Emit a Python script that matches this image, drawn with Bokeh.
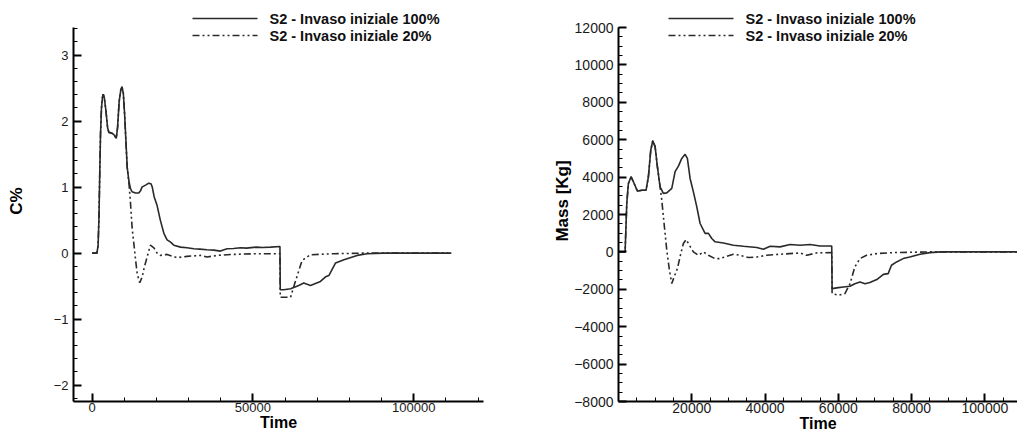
from bokeh.plotting import figure
from bokeh.models import (Range1d, SingleIntervalTicker, FixedTicker, BasicTickFormatter,
                          Label, Arrow)
from bokeh.layouts import row
from bokeh.embed import file_html
from bokeh.resources import INLINE

# ---------------- data: left chart (C%) ----------------
c100_t = [0, 1500, 1850, 2100, 2400, 2600, 2900, 3200, 3450, 3800, 4300, 4800, 5200, 6000, 6700,
          7500, 7900, 8400, 8900, 9300, 9700, 10100, 10500, 10900, 11400, 11900, 12400, 13500,
          14500, 15100, 15500, 16600, 17600, 18300, 18700, 19300, 20200, 21200, 22300, 23300,
          24300, 25400, 27500, 29500, 31600, 33500, 35700, 37800, 39900, 41000, 42000, 44000,
          46100, 48000, 51000, 53000, 55500, 58400, 58500, 59600, 61700, 64250, 65800, 67900,
          71000, 72600, 73600, 75700, 78300, 82400, 85500, 90600, 111700]
c100_v = [0, 0, 0.12, 0.5, 1.3, 1.8, 2.2, 2.36, 2.41, 2.35, 2.15, 1.9, 1.83, 1.82, 1.80,
          1.74, 1.9, 2.3, 2.47, 2.52, 2.42, 2.1, 1.7, 1.3, 1.10, 0.98, 0.93, 0.91,
          0.91, 0.95, 1.0, 1.03, 1.06, 1.05, 1.0, 0.85, 0.72, 0.5, 0.3, 0.2,
          0.17, 0.12, 0.09, 0.08, 0.065, 0.06, 0.05, 0.045, 0.03, 0.05, 0.066, 0.07,
          0.08, 0.075, 0.09, 0.085, 0.09, 0.10, -0.556, -0.556, -0.54, -0.49, -0.455, -0.49,
          -0.43, -0.36, -0.34, -0.15, -0.10, -0.035, -0.01, 0, 0]

c20_t = [0, 1500, 1850, 2100, 2400, 2600, 2900, 3200, 3450, 3800, 4300, 4800, 5200, 6000, 6700,
         7500, 7900, 8400, 8900, 9300, 9700, 10100, 10500, 10900, 11400, 11900, 12400, 12950,
         13500, 14000, 14800, 15500, 16300, 17100, 18100, 19200, 20200, 21200, 23300, 26400,
         29500, 33700, 35700, 38900, 44000, 50200, 58400, 58500, 61700, 63000, 65300, 67900,
         75100, 85000, 111700]
c20_v = [0, 0, 0.12, 0.5, 1.3, 1.8, 2.2, 2.36, 2.41, 2.35, 2.15, 1.9, 1.83, 1.82, 1.80,
         1.74, 1.9, 2.3, 2.47, 2.52, 2.42, 2.1, 1.7, 1.3, 1.08, 0.78, 0.4, 0.15,
         -0.1, -0.31, -0.45, -0.37, -0.2, -0.06, 0.12, 0.08, 0.0, -0.035, -0.02, -0.07,
         -0.05, -0.035, -0.06, -0.035, -0.02, -0.01, -0.01, -0.67, -0.67, -0.46, -0.11, -0.025,
         -0.01, 0, 0]

# ---------------- data: right chart (Mass [Kg]) ----------------
m100_t = [0, 1800, 2260, 2700, 3440, 4070, 5160, 6360, 7530, 8160, 8810, 9360, 9990, 10620,
          11350, 12250, 13180, 14540, 15450, 16350, 17270, 18180, 18800, 19540, 20440, 21370,
          22270, 23630, 24540, 25460, 26360, 28630, 31360, 34090, 37740, 39550, 41370, 44100,
          46830, 49560, 52300, 55000, 58200, 58300, 60000, 61400, 63200, 64500, 65900, 67300,
          68600, 70500, 72300, 73600, 74500, 75900, 77700, 79500, 82300, 85000, 88000, 108900]
m100_v = [0, 0, 2590, 3660, 4020, 3750, 3250, 3300, 3300, 4020, 5450, 5950, 5630, 4550,
          3480, 3130, 3160, 3400, 4290, 4590, 5000, 5220, 5000, 3930, 3210, 2410,
          1520, 990, 990, 720, 540, 480, 360, 305, 235, 145, 305, 270,
          395, 360, 393, 320, 320, -1965, -1910, -1875, -1840, -1700, -1610, -1700,
          -1640, -1480, -1200, -1160, -714, -536, -357, -268, -125, -36, 0, 0]

m20_t = [0, 1800, 2260, 2700, 3440, 4070, 5160, 6360, 7530, 8160, 8810, 9360, 9990, 10620,
         11350, 11810, 12440, 13180, 13900, 14540, 15170, 16080, 17000, 17710, 18450, 19350,
         20440, 21810, 23170, 24540, 26360, 27730, 29550, 31360, 33180, 35450, 37740, 40470,
         44100, 49560, 51400, 54000, 58200, 58300, 60000, 61800, 63200, 64500, 65900, 67700,
         70500, 75000, 85000, 108900]
m20_v = [0, 0, 2590, 3660, 4020, 3750, 3250, 3300, 3300, 4020, 5450, 5950, 5630, 4550,
         3480, 2770, 1520, 90, -980, -1690, -1340, -890, -90, 450, 660, 360,
         0, -180, 0, -180, -360, -360, -230, -125, -180, -300, -270, -180,
         -125, -55, -179, -54, -36, -2230, -2320, -2230, -1700, -800, -357, -179,
         -90, -36, 0, 0]

labels = ["S2 - Invaso iniziale 100%", "S2 - Invaso iniziale 20%"]
x_title = "Time"
left_y_title = "C%"
right_y_title = "Mass [Kg]"
left_y_bounds = (-2.25, 3.42)
right_y_bounds = (-8000, 12000)
right_x_ticks = [20000, 40000, 60000, 80000, 100000]
right_x_minor = [5000 * k for k in range(1, 22)]

FONT = "Liberation Sans"
LINE_COLOR = "#2a2a2a"
LINE_W = 1.6
DASH = "7 3 2 3 2 3"


def style(p, tick_font, ylab_standoff, ybounds):
    p.outline_line_color = None
    p.xgrid.visible = False
    p.ygrid.visible = False
    p.background_fill_color = "white"
    p.border_fill_color = "white"
    for ax in (p.xaxis[0], p.yaxis[0]):
        ax.axis_line_width = 2
        ax.axis_line_color = "black"
        ax.major_tick_in = 8
        ax.major_tick_out = 0
        ax.major_tick_line_width = 2
        ax.major_tick_line_color = "black"
        ax.minor_tick_in = 4
        ax.minor_tick_out = 0
        ax.minor_tick_line_width = 1
        ax.minor_tick_line_color = "black"
        ax.major_label_text_font = FONT
        ax.major_label_text_font_size = tick_font
        ax.major_label_text_color = "#1a1a1a"
        ax.axis_label_text_font = FONT
        ax.axis_label_text_font_style = "bold"
        ax.axis_label_text_color = "black"
        ax.formatter = BasicTickFormatter(use_scientific=False)
    p.yaxis[0].bounds = ybounds
    p.xaxis[0].major_label_standoff = 1
    p.xaxis[0].axis_label_standoff = -1
    p.xaxis[0].axis_label_text_font_size = "16px"
    p.yaxis[0].major_label_standoff = 5
    p.yaxis[0].axis_label_standoff = ylab_standoff
    p.yaxis[0].axis_label_text_font_size = "17px"


def add_key(p, x0, ys):
    # legend: line samples + bold labels, placed in screen units near the frame top
    dashes = ["solid", DASH]
    for lab, yy, dash in zip(labels, ys, dashes):
        p.add_layout(Arrow(start=None, end=None, x_start=x0, y_start=yy, x_end=x0 + 65, y_end=yy,
                           start_units="screen", end_units="screen",
                           line_color=LINE_COLOR, line_width=LINE_W, line_dash=dash))
        p.add_layout(Label(x=x0 + 77, y=yy, x_units="screen", y_units="screen", text=lab,
                           text_font=FONT, text_font_size="14.5px", text_font_style="bold",
                           text_color="#111111", text_baseline="middle", text_align="left"))


# ---------------- left figure ----------------
# frame spans the full height above the axis so that the key (partly above the axis top) is visible;
# the y axis itself is limited to its bounds.
p1 = figure(width=505, height=434, output_backend="svg", toolbar_location=None,
            x_range=Range1d(-5800, 121700), y_range=Range1d(-2.25, 3.829),
            min_border_left=73, min_border_right=22, min_border_top=0, min_border_bottom=33,
            x_axis_label=x_title, y_axis_label=left_y_title)
p1.xaxis[0].ticker = SingleIntervalTicker(interval=50000, num_minor_ticks=5)
p1.yaxis[0].ticker = SingleIntervalTicker(interval=1, num_minor_ticks=5)
style(p1, "13px", 25, left_y_bounds)
p1.line(c100_t, c100_v, line_color=LINE_COLOR, line_width=LINE_W)
p1.line(c20_t, c20_v, line_color=LINE_COLOR, line_width=LINE_W, line_dash=DASH)
add_key(p1, 119, [383, 366])

# ---------------- right figure ----------------
p2 = figure(width=512, height=434, output_backend="svg", toolbar_location=None,
            x_range=Range1d(0, 108900), y_range=Range1d(-8000, 13447),
            min_border_left=113, min_border_right=0, min_border_top=0, min_border_bottom=33,
            x_axis_label=x_title, y_axis_label=right_y_title)
p2.xaxis[0].ticker = FixedTicker(ticks=right_x_ticks, minor_ticks=right_x_minor)
p2.yaxis[0].ticker = SingleIntervalTicker(interval=2000, num_minor_ticks=4)
style(p2, "14px", -1, right_y_bounds)
p2.line(m100_t, m100_v, line_color=LINE_COLOR, line_width=LINE_W)
p2.line(m20_t, m20_v, line_color=LINE_COLOR, line_width=LINE_W, line_dash=DASH)
add_key(p2, 50, [383, 366])

layout = row(p1, p2)
open("out.html", "w").write(file_html(layout, INLINE))
